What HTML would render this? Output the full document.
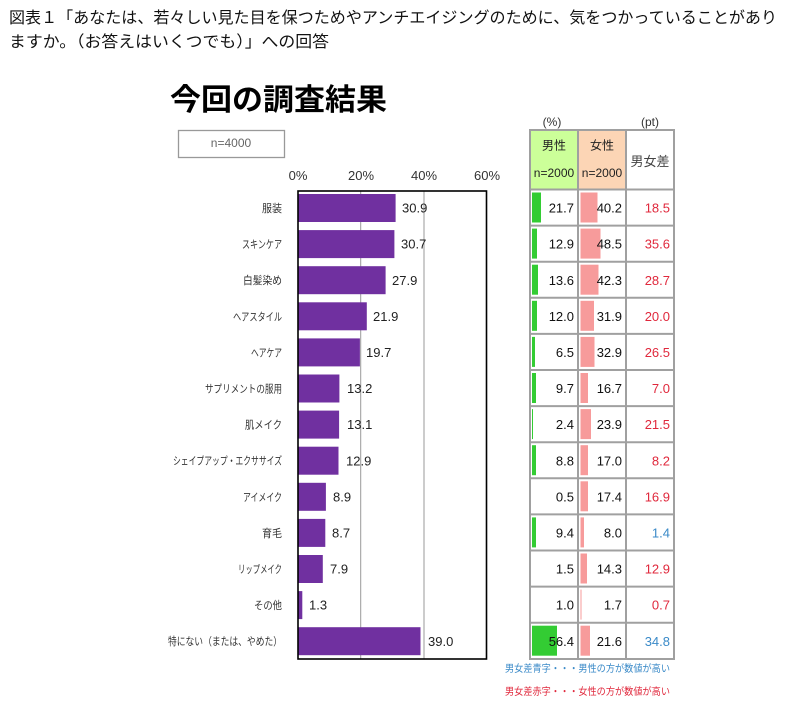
<!DOCTYPE html>
<html><head><meta charset="utf-8">
<style>
html,body{margin:0;padding:0;background:#fff;}
svg{display:block;}
text{font-family:"Liberation Sans","Noto Sans CJK JP",sans-serif;}
</style></head>
<body>
<svg width="810" height="712" viewBox="0 0 810 712" xmlns="http://www.w3.org/2000/svg">
<rect width="810" height="712" fill="#fff"/>
<!-- page title -->
<text x="9" y="23" font-size="16" fill="#111" textLength="768" lengthAdjust="spacingAndGlyphs">図表１「あなたは、若々しい見た目を保つためやアンチエイジングのために、気をつかっていることがあり</text>
<text x="9" y="47" font-size="16" fill="#111" textLength="320" lengthAdjust="spacingAndGlyphs">ますか。（お答えはいくつでも）」への回答</text>
<!-- chart title -->
<text x="170" y="110" font-size="30" font-weight="bold" fill="#000" textLength="217" lengthAdjust="spacingAndGlyphs">今回の調査結果</text>
<!-- n box -->
<rect x="178.5" y="130.5" width="106" height="27" fill="#fff" stroke="#999" stroke-width="1.3"/>
<text x="231" y="147" font-size="12" fill="#666" text-anchor="middle">n=4000</text>
<!-- axis labels -->
<g font-size="13" fill="#333" text-anchor="middle">
<text x="298" y="180">0%</text>
<text x="361" y="180">20%</text>
<text x="424" y="180">40%</text>
<text x="487" y="180">60%</text>
</g>
<!-- grid -->
<line x1="360.7" y1="191" x2="360.7" y2="659" stroke="#999" stroke-width="1"/>
<line x1="424" y1="191" x2="424" y2="659" stroke="#999" stroke-width="1"/>
<!-- bars -->
<g fill="#7030a0">
<rect x="298" y="194" width="97.6" height="28"/>
<rect x="298" y="230.1" width="96.4" height="28"/>
<rect x="298" y="266.2" width="87.6" height="28"/>
<rect x="298" y="302.3" width="68.8" height="28"/>
<rect x="298" y="338.4" width="61.9" height="28"/>
<rect x="298" y="374.5" width="41.4" height="28"/>
<rect x="298" y="410.6" width="41.1" height="28"/>
<rect x="298" y="446.7" width="40.5" height="28"/>
<rect x="298" y="482.8" width="27.9" height="28"/>
<rect x="298" y="518.9" width="27.3" height="28"/>
<rect x="298" y="555" width="24.8" height="28"/>
<rect x="298" y="591.1" width="4.3" height="28"/>
<rect x="298" y="627.2" width="122.5" height="28"/>
</g>
<!-- box -->
<rect x="298" y="191" width="188.5" height="468" fill="none" stroke="#000" stroke-width="1.6"/>
<!-- value labels -->
<g font-size="13" fill="#222">
<text x="402" y="212.6">30.9</text>
<text x="401" y="248.7">30.7</text>
<text x="392" y="284.8">27.9</text>
<text x="373" y="320.9">21.9</text>
<text x="366" y="357">19.7</text>
<text x="347" y="393.1">13.2</text>
<text x="347" y="429.2">13.1</text>
<text x="346" y="465.3">12.9</text>
<text x="333" y="501.4">8.9</text>
<text x="332" y="537.5">8.7</text>
<text x="330" y="573.6">7.9</text>
<text x="309" y="609.7">1.3</text>
<text x="428" y="645.8">39.0</text>
</g>
<!-- category labels -->
<g font-size="11" fill="#333" text-anchor="end">
<text x="282" y="212" textLength="20" lengthAdjust="spacingAndGlyphs">服装</text>
<text x="282" y="248.1" textLength="40" lengthAdjust="spacingAndGlyphs">スキンケア</text>
<text x="282" y="284.2" textLength="39" lengthAdjust="spacingAndGlyphs">白髪染め</text>
<text x="282" y="320.3" textLength="49" lengthAdjust="spacingAndGlyphs">ヘアスタイル</text>
<text x="282" y="356.4" textLength="31" lengthAdjust="spacingAndGlyphs">ヘアケア</text>
<text x="282" y="392.5" textLength="77" lengthAdjust="spacingAndGlyphs">サプリメントの服用</text>
<text x="282" y="428.6" textLength="37" lengthAdjust="spacingAndGlyphs">肌メイク</text>
<text x="282" y="464.7" textLength="109" lengthAdjust="spacingAndGlyphs">シェイプアップ・エクササイズ</text>
<text x="282" y="500.8" textLength="39" lengthAdjust="spacingAndGlyphs">アイメイク</text>
<text x="282" y="536.9" textLength="20" lengthAdjust="spacingAndGlyphs">育毛</text>
<text x="282" y="573" textLength="44" lengthAdjust="spacingAndGlyphs">リップメイク</text>
<text x="282" y="609.1" textLength="28" lengthAdjust="spacingAndGlyphs">その他</text>
<text x="282" y="645.2" textLength="114" lengthAdjust="spacingAndGlyphs">特にない（または、やめた）</text>
</g>

<!-- TABLE -->
<text x="552" y="126" font-size="12" fill="#333" text-anchor="middle">(%)</text>
<text x="650" y="126" font-size="12" fill="#333" text-anchor="middle">(pt)</text>
<rect x="530" y="130" width="48" height="59" fill="#ccff99"/>
<rect x="578" y="130" width="48" height="59" fill="#fcd5b5"/>
<text x="554" y="149.5" font-size="12" fill="#222" text-anchor="middle">男性</text>
<text x="554" y="177" font-size="12" fill="#222" text-anchor="middle">n=2000</text>
<text x="602" y="149.5" font-size="12" fill="#222" text-anchor="middle">女性</text>
<text x="602" y="177" font-size="12" fill="#222" text-anchor="middle">n=2000</text>
<text x="650" y="166" font-size="13" fill="#444" text-anchor="middle">男女差</text>

<!-- green bars -->
<g fill="#33cc33">
<rect x="532" y="192.5" width="9" height="30"/>
<rect x="532" y="228.6" width="5" height="30"/>
<rect x="532" y="264.7" width="6" height="30"/>
<rect x="532" y="300.8" width="5" height="30"/>
<rect x="532" y="336.9" width="3" height="30"/>
<rect x="532" y="373" width="4" height="30"/>
<rect x="532" y="409.1" width="1" height="30"/>
<rect x="532" y="445.2" width="4" height="30"/>
<rect x="532" y="517.4" width="4" height="30"/>
<rect x="532" y="625.7" width="25" height="30"/>
</g>
<!-- pink bars -->
<g fill="#f79b9b">
<rect x="580.5" y="192.5" width="17" height="30"/>
<rect x="580.5" y="228.6" width="20" height="30"/>
<rect x="580.5" y="264.7" width="18" height="30"/>
<rect x="580.5" y="300.8" width="13.5" height="30"/>
<rect x="580.5" y="336.9" width="14" height="30"/>
<rect x="580.5" y="373" width="7.5" height="30"/>
<rect x="580.5" y="409.1" width="10.5" height="30"/>
<rect x="580.5" y="445.2" width="7.5" height="30"/>
<rect x="580.5" y="481.3" width="7.5" height="30"/>
<rect x="580.5" y="517.4" width="3.5" height="30"/>
<rect x="580.5" y="553.5" width="6.5" height="30"/>
<rect x="580.5" y="589.6" width="1" height="30"/>
<rect x="580.5" y="625.7" width="9.5" height="30"/>
</g>

<!-- grid lines -->
<g stroke="#a0a0a0" stroke-width="2" fill="none">
<rect x="530" y="130" width="144" height="529"/>
<line x1="578" y1="130" x2="578" y2="659"/>
<line x1="626" y1="130" x2="626" y2="659"/>
<line x1="530" y1="189.5" x2="674" y2="189.5"/>
<line x1="530" y1="225.6" x2="674" y2="225.6"/>
<line x1="530" y1="261.7" x2="674" y2="261.7"/>
<line x1="530" y1="297.8" x2="674" y2="297.8"/>
<line x1="530" y1="333.9" x2="674" y2="333.9"/>
<line x1="530" y1="370" x2="674" y2="370"/>
<line x1="530" y1="406.1" x2="674" y2="406.1"/>
<line x1="530" y1="442.2" x2="674" y2="442.2"/>
<line x1="530" y1="478.3" x2="674" y2="478.3"/>
<line x1="530" y1="514.4" x2="674" y2="514.4"/>
<line x1="530" y1="550.5" x2="674" y2="550.5"/>
<line x1="530" y1="586.6" x2="674" y2="586.6"/>
<line x1="530" y1="622.7" x2="674" y2="622.7"/>
</g>

<!-- numbers -->
<g font-size="13" fill="#111" text-anchor="end">
<text x="574" y="212.6">21.7</text><text x="622" y="212.6">40.2</text>
<text x="574" y="248.7">12.9</text><text x="622" y="248.7">48.5</text>
<text x="574" y="284.8">13.6</text><text x="622" y="284.8">42.3</text>
<text x="574" y="320.9">12.0</text><text x="622" y="320.9">31.9</text>
<text x="574" y="357">6.5</text><text x="622" y="357">32.9</text>
<text x="574" y="393.1">9.7</text><text x="622" y="393.1">16.7</text>
<text x="574" y="429.2">2.4</text><text x="622" y="429.2">23.9</text>
<text x="574" y="465.3">8.8</text><text x="622" y="465.3">17.0</text>
<text x="574" y="501.4">0.5</text><text x="622" y="501.4">17.4</text>
<text x="574" y="537.5">9.4</text><text x="622" y="537.5">8.0</text>
<text x="574" y="573.6">1.5</text><text x="622" y="573.6">14.3</text>
<text x="574" y="609.7">1.0</text><text x="622" y="609.7">1.7</text>
<text x="574" y="645.8">56.4</text><text x="622" y="645.8">21.6</text>
</g>
<g font-size="13" text-anchor="end">
<text x="670" y="212.6" fill="#e0283c">18.5</text>
<text x="670" y="248.7" fill="#e0283c">35.6</text>
<text x="670" y="284.8" fill="#e0283c">28.7</text>
<text x="670" y="320.9" fill="#e0283c">20.0</text>
<text x="670" y="357" fill="#e0283c">26.5</text>
<text x="670" y="393.1" fill="#e0283c">7.0</text>
<text x="670" y="429.2" fill="#e0283c">21.5</text>
<text x="670" y="465.3" fill="#e0283c">8.2</text>
<text x="670" y="501.4" fill="#e0283c">16.9</text>
<text x="670" y="537.5" fill="#3a8ac8">1.4</text>
<text x="670" y="573.6" fill="#e0283c">12.9</text>
<text x="670" y="609.7" fill="#e0283c">0.7</text>
<text x="670" y="645.8" fill="#3a8ac8">34.8</text>
</g>

<!-- legend notes -->
<text x="505" y="672" font-size="10" fill="#3a8ac8" textLength="165" lengthAdjust="spacingAndGlyphs">男女差青字・・・男性の方が数値が高い</text>
<text x="505" y="695" font-size="10" fill="#e0283c" textLength="165" lengthAdjust="spacingAndGlyphs">男女差赤字・・・女性の方が数値が高い</text>
</svg>
</body></html>
